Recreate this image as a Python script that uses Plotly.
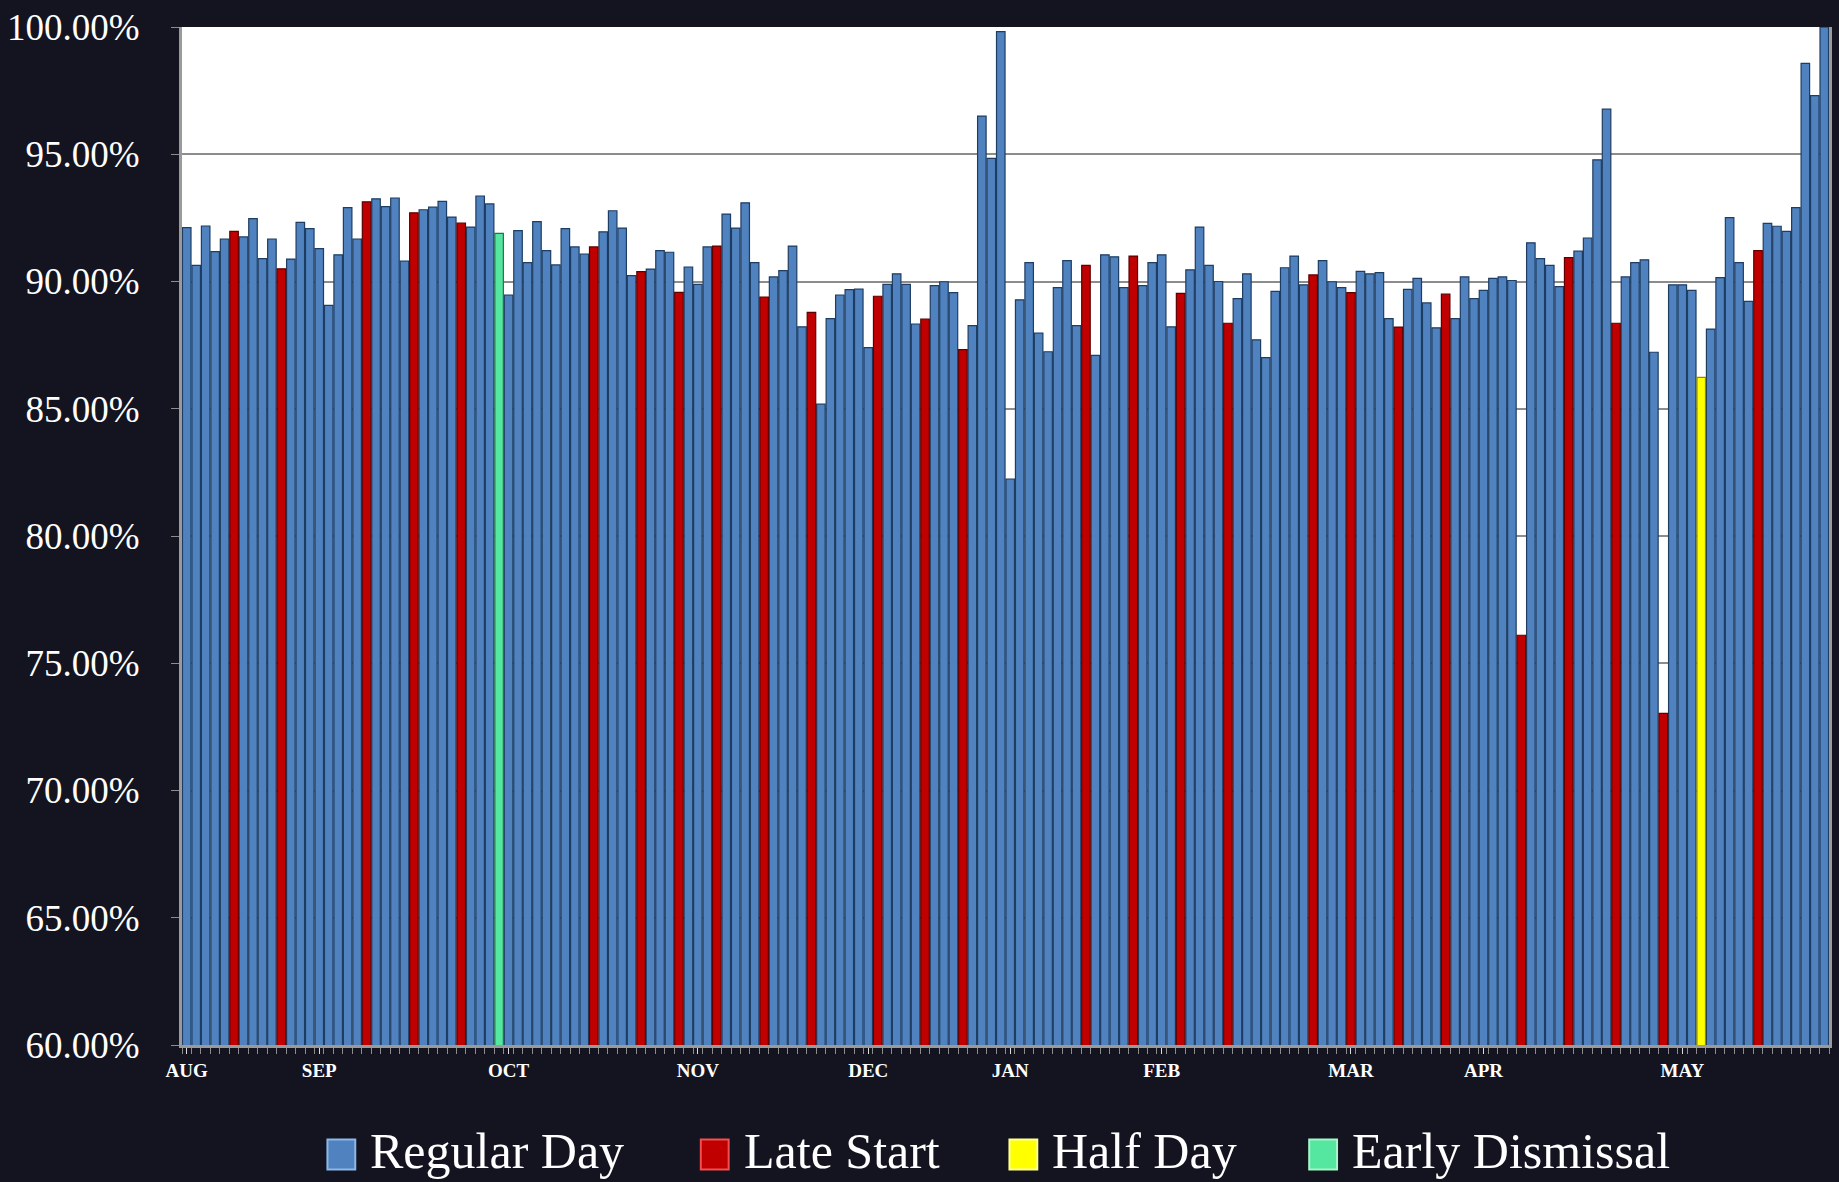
import plotly.graph_objects as go

BG = "#131420"
TEXT = "#FFFFFF"
GRID = "#8C8C8C"
FONT = "Liberation Serif, DejaVu Serif, serif"

# attendance rate for each school day, in order
rates = [
    92.12, 90.63, 92.18, 91.17, 91.67, 91.97, 91.75, 92.47, 90.90, 91.67,
    90.50, 90.88, 92.32, 92.08, 91.29, 89.06, 91.05, 92.90, 91.67, 93.13,
    93.25, 92.94, 93.28, 90.80, 92.70, 92.82, 92.92, 93.15, 92.53, 92.29,
    92.14, 93.36, 93.05, 91.89, 89.47, 92.00, 90.74, 92.35, 91.21, 90.65,
    92.08, 91.36, 91.08, 91.36, 91.95, 92.78, 92.10, 90.23, 90.39, 90.49,
    91.21, 91.15, 89.57, 90.57, 89.89, 91.36, 91.39, 92.65, 92.10, 93.09,
    90.74, 89.39, 90.18, 90.43, 91.39, 88.22, 88.79, 85.18, 88.54, 89.47,
    89.68, 89.70, 87.40, 89.42, 89.89, 90.30, 89.89, 88.33, 88.52, 89.84,
    89.99, 89.56, 87.32, 88.27, 96.50, 94.84, 99.82, 82.24, 89.28, 90.74,
    87.97, 87.24, 89.76, 90.82, 88.27, 90.63, 87.10, 91.05, 90.97, 89.76,
    91.00, 89.84, 90.74, 91.05, 88.22, 89.53, 90.46, 92.14, 90.63, 90.00,
    88.36, 89.33, 90.30, 87.71, 87.01, 89.61, 90.54, 91.00, 89.87, 90.26,
    90.82, 89.99, 89.76, 89.56, 90.40, 90.30, 90.35, 88.54, 88.21, 89.69,
    90.12, 89.16, 88.18, 89.50, 88.54, 90.18, 89.33, 89.65, 90.12, 90.18,
    90.04, 76.10, 91.52, 90.90, 90.63, 89.80, 90.94, 91.19, 91.71, 94.78,
    96.77, 88.36, 90.18, 90.74, 90.85, 87.22, 73.03, 89.87, 89.87, 89.65,
    86.23, 88.13, 90.15, 92.51, 90.74, 89.22, 91.21, 92.28, 92.17, 91.97,
    92.90, 98.57, 97.30, 99.99,
]

# day type codes: R = regular, L = late start, H = half day, E = early dismissal
day_types = list(
    "RRRRRLRRRR" "LRRRRRRRRL" "RRRRLRRRRL" "RRRERRRRRR"
    "RRRLRRRRLR" "RRLRRRLRRR" "RLRRRRLRRR" "RRRLRRRRLR"
    "RRLRRRRRRR" "RRRRRLRRRR" "LRRRRLRRRR" "LRRRRRRRRL"
    "RRRLRRRRLR" "RRRLRRRRRR" "RLRRRRLRRR" "RLRRRRLRRR"
    "HRRRRRLRRR" "RRRR"
)

month_labels = ["AUG", "SEP", "OCT", "NOV", "DEC", "JAN", "FEB", "MAR", "APR", "MAY"]
month_first_day = [1, 15, 35, 55, 73, 88, 104, 124, 138, 159]

series = [
    ("R", "Regular Day", "#4F82BE", "#1E3D62", "#8DB8E8"),
    ("L", "Late Start", "#C00000", "#5E0000", "#F05050"),
    ("H", "Half Day", "#FFFF00", "#8C8C00", "#FFFF99"),
    ("E", "Early Dismissal", "#55E69F", "#25704C", "#A8F5CC"),
]

days = list(range(1, len(rates) + 1))

fig = go.Figure()
for code, name, color, edge, _ in series:
    xs = [d for d, t in zip(days, day_types) if t == code]
    ys = [v for v, t in zip(rates, day_types) if t == code]
    fig.add_trace(go.Bar(
        x=xs,
        y=ys,
        name=name,
        width=0.9,
        marker=dict(color=color, line=dict(color=edge, width=1.2)),
        showlegend=False,
    ))

# legend drawn by hand so the swatches can be as big as in the original
legend_x = [0.0883, 0.315, 0.5024, 0.6844]
for (code, name, color, edge, light), lx in zip(series, legend_x):
    fig.add_shape(
        type="rect", xref="paper", yref="paper",
        x0=lx, x1=lx + 0.0169, y0=-0.1222, y1=-0.0929,
        fillcolor=color, line=dict(color=light, width=2),
    )
    fig.add_annotation(
        x=lx + 0.0248, y=-0.1045, xref="paper", yref="paper",
        xanchor="left", yanchor="middle", showarrow=False,
        text=name, font=dict(size=50, color=TEXT, family=FONT),
    )

fig.update_layout(
    width=1839,
    height=1182,
    barmode="overlay",
    paper_bgcolor=BG,
    plot_bgcolor="#FFFFFF",
    font=dict(family=FONT, color=TEXT),
    margin=dict(l=178, r=7, t=22, b=137),
    xaxis=dict(
        range=[0.5, len(rates) + 0.5],
        tickmode="array",
        tickvals=month_first_day,
        ticktext=month_labels,
        tickfont=dict(size=19, color=TEXT, family=FONT, weight="bold"),
        ticks="outside", ticklen=6, tickcolor="#DDDDDD",
        minor=dict(tick0=0.5, dtick=1, ticks="outside", ticklen=6, tickcolor=GRID),
        showgrid=False,
        showline=True, linecolor="#9A9A9A", linewidth=3,
        zeroline=False,
    ),
    yaxis=dict(
        range=[60, 100],
        tick0=60, dtick=5,
        tickformat=".2f", ticksuffix="%",
        tickfont=dict(size=37, color=TEXT, family=FONT),
        ticks="outside", ticklen=8, tickcolor=GRID,
        ticklabelstandoff=24,
        gridcolor=GRID, gridwidth=2,
        showline=True, linecolor="#9A9A9A", linewidth=3, mirror=True,
        zeroline=False,
    ),
)

fig.write_html(
    "out.html",
    config={"displayModeBar": False},
    post_script="document.body.style.margin='0';document.body.style.background='#131420';",
)
